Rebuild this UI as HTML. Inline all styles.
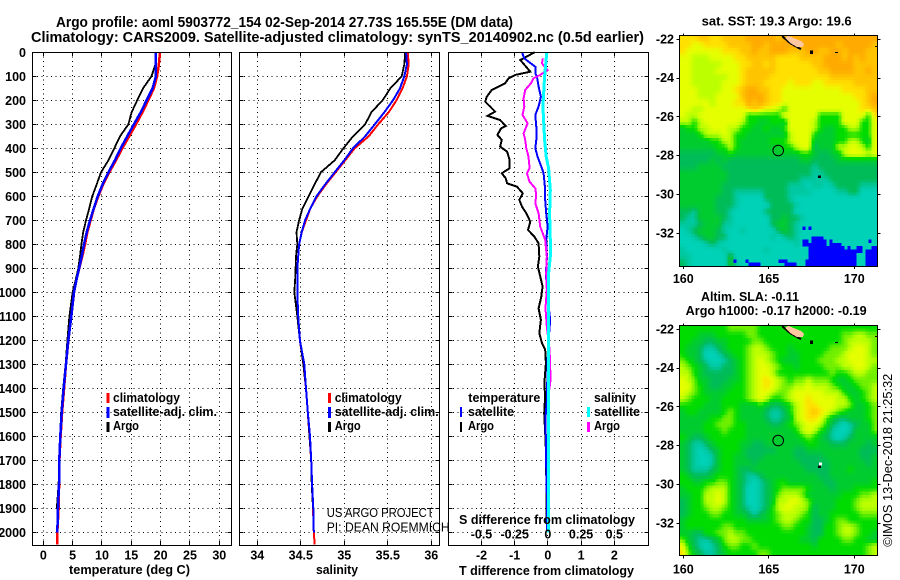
<!DOCTYPE html>
<html lang="en">
<head>
<meta charset="utf-8">
<title>Argo profile chart</title>
<style>
html,body{margin:0;padding:0;background:#fff;}
svg{display:block;}
text{font-family:"Liberation Sans",sans-serif;fill:#000;}
.t{font-size:14.5px;font-weight:bold;}
.b{font-size:12.5px;font-weight:bold;}
.r{font-size:12.5px;font-weight:normal;}
</style>
</head>
<body>
<svg id="chart" xmlns="http://www.w3.org/2000/svg" width="900" height="580" viewBox="0 0 900 580">
<rect x="0" y="0" width="900" height="580" fill="#fff"/>
<text class="t" x="56" y="27" textLength="457" lengthAdjust="spacingAndGlyphs">Argo profile: aoml 5903772_154 02-Sep-2014 27.73S 165.55E (DM data)</text>
<text class="t" x="31" y="42" textLength="613" lengthAdjust="spacingAndGlyphs">Climatology: CARS2009. Satellite-adjusted climatology: synTS_20140902.nc (0.5d earlier)</text>

<g id="p1"></g>
<g id="p2"></g>
<g id="p3"></g>
<g id="m1"></g>
<g id="m2"></g>

<text class="b" x="69" y="574" textLength="121" lengthAdjust="spacingAndGlyphs">temperature (deg C)</text>
<text class="b" x="316" y="574" textLength="42" lengthAdjust="spacingAndGlyphs">salinity</text>
<text class="b" x="459" y="575" textLength="175" lengthAdjust="spacingAndGlyphs">T difference from climatology</text>
<text class="b" x="459" y="524" textLength="176" lengthAdjust="spacingAndGlyphs">S difference from climatology</text>

<g>
<rect x="106.5" y="393" width="3" height="10" fill="#ff0000"/>
<rect x="106.5" y="407" width="3" height="11" fill="#0000ff"/>
<rect x="106.5" y="422" width="3" height="10" fill="#000"/>
<text class="b" x="113" y="402" textLength="67" lengthAdjust="spacingAndGlyphs">climatology</text>
<text class="b" x="113" y="416" textLength="104" lengthAdjust="spacingAndGlyphs">satellite-adj. clim.</text>
<text class="b" x="113" y="430" textLength="26" lengthAdjust="spacingAndGlyphs">Argo</text>
</g>
<g>
<rect x="328" y="393" width="3" height="10" fill="#ff0000"/>
<rect x="328" y="407" width="3" height="11" fill="#0000ff"/>
<rect x="328" y="422" width="3" height="10" fill="#000"/>
<text class="b" x="334.7" y="402" textLength="67" lengthAdjust="spacingAndGlyphs">climatology</text>
<text class="b" x="334.7" y="416" textLength="104" lengthAdjust="spacingAndGlyphs">satellite-adj. clim.</text>
<text class="b" x="334.7" y="430" textLength="26" lengthAdjust="spacingAndGlyphs">Argo</text>
</g>
<text class="r" x="326.7" y="517" textLength="107" lengthAdjust="spacingAndGlyphs">US ARGO PROJECT</text>
<text class="r" x="326.7" y="531.7" textLength="123" lengthAdjust="spacingAndGlyphs">PI: DEAN ROEMMICH</text>

<g>
<text class="b" x="468.3" y="402" textLength="72" lengthAdjust="spacingAndGlyphs">temperature</text>
<text class="b" x="468" y="416" textLength="46" lengthAdjust="spacingAndGlyphs">satellite</text>
<text class="b" x="468" y="430" textLength="26" lengthAdjust="spacingAndGlyphs">Argo</text>
<text class="b" x="594" y="402" textLength="42" lengthAdjust="spacingAndGlyphs">salinity</text>
<text class="b" x="594" y="416" textLength="46" lengthAdjust="spacingAndGlyphs">satellite</text>
<text class="b" x="594" y="430" textLength="26" lengthAdjust="spacingAndGlyphs">Argo</text>
<rect x="460" y="407" width="2" height="10" fill="#0000ff"/>
<rect x="460" y="422" width="2" height="10" fill="#000"/>
<rect x="587" y="407" width="3" height="10" fill="#00ffff"/>
<rect x="587" y="422" width="3" height="10" fill="#ff00ff"/>
</g>

<text class="b" x="701.7" y="25.7" textLength="150" lengthAdjust="spacingAndGlyphs">sat. SST: 19.3 Argo: 19.6</text>
<text class="b" x="701" y="301" textLength="98" lengthAdjust="spacingAndGlyphs">Altim. SLA: -0.11</text>
<text class="b" x="685.7" y="315" textLength="181" lengthAdjust="spacingAndGlyphs">Argo h1000: -0.17 h2000: -0.19</text>
<text class="r" transform="translate(892,546.7) rotate(-90)" x="0" y="0" textLength="173" lengthAdjust="spacingAndGlyphs">©IMOS 13-Dec-2018 21:25:32</text>
</svg>

<script>
/* ---------- profile data ---------- */
const depthLevels = [0,50,100,150,200,250,300,350,400,450,500,550,600,650,700,750,800,850,900,950,1000,1100,1200,1300,1400,1500,1600,1700,1800,1900,2000,2050];
const tempClim = [19.9,19.7,19.4,18.86,17.9,16.9,15.8,14.65,13.46,12.4,11.25,10.2,9.37,8.64,8.07,7.5,7.1,6.65,6.13,5.62,5.25,4.77,4.28,3.87,3.55,3.2,2.95,2.75,2.7,2.6,2.39,2.39];
const tempArgo = [19.15,19.1,18.45,17.0,16.0,15.05,14.5,13.07,12.1,11.1,9.83,9.1,8.35,7.84,7.27,6.8,6.5,6.25,5.97,5.5,5.0,4.45,4.1,3.8,3.4,3.05,2.85,2.7,2.6,2.3,null,null];
const tempSat = [19.15,19.2,19.2,18.63,17.6,16.6,15.45,14.3,13.2,12.2,11.1,10.1,9.27,8.6,7.96,7.4,6.93,6.54,6.1,5.65,5.23,4.77,4.26,3.87,3.47,3.13,2.9,2.73,2.67,2.5,2.39,null];
const salClim = [35.73,35.74,35.72,35.67,35.60,35.51,35.39,35.28,35.12,35.01,34.90,34.79,34.69,34.61,34.56,34.51,34.48,34.47,34.46,34.46,34.46,34.47,34.49,34.53,34.56,34.58,34.60,34.62,34.63,34.64,34.65,34.66];
const salArgo = [35.70,35.69,35.66,35.53,35.44,35.31,35.24,35.10,34.99,34.89,34.73,34.66,34.59,34.52,34.48,34.45,34.46,34.445,34.44,34.435,34.425,34.46,34.49,34.53,34.56,34.58,34.60,34.62,34.625,34.64,null,null];
const salSat = [35.71,35.72,35.69,35.64,35.56,35.46,35.35,35.24,35.10,35.0,34.89,34.78,34.68,34.61,34.55,34.51,34.48,34.47,34.46,34.46,34.46,34.47,34.49,34.54,34.56,34.58,34.606,34.62,34.63,34.644,34.65,null];

const tDiffArgoDepth = [0,32,81,94,108,129,157,185,206,226,247,265,282,307,317,344,365,393,414,449,483,504,525,546,560,587,615,643,671,706,740,768,796,851,893,935,976,1018,1067,1115,1170,1211,1240,1295,1365,1449,1504,1587,1657,1865,1936,1990];
const tDiffArgo = [-0.40,-0.83,-0.53,-0.98,-1.18,-1.29,-1.69,-1.84,-1.89,-1.74,-1.59,-1.82,-1.44,-1.27,-1.41,-1.52,-1.39,-1.44,-1.23,-1.15,-1.15,-1.39,-1.27,-1.23,-0.93,-0.76,-0.86,-0.78,-0.65,-0.53,-0.60,-0.41,-0.28,-0.26,-0.30,-0.23,-0.16,-0.20,-0.28,-0.21,-0.26,-0.18,-0.08,-0.06,-0.10,-0.09,-0.11,-0.08,-0.06,-0.04,-0.04,-0.03];
const tDiffSatDepth = [0,25,39,60,88,101,143,185,226,261,310,365,400,435,483,504,560,615,671,726,782,851,921,990,1115,1240,1449,1517,1657,1865,1990];
const tDiffSat = [-0.78,-0.71,-0.58,-0.38,-0.38,-0.33,-0.28,-0.21,-0.28,-0.38,-0.35,-0.35,-0.38,-0.31,-0.18,-0.13,-0.09,-0.08,-0.05,-0.01,-0.05,-0.03,-0.06,-0.03,0.07,0,-0.03,-0.07,-0.06,-0.03,-0.02];
const sDiffArgoDepth = [25,46,74,94,108,129,157,192,226,261,296,338,365,400,435,483,504,539,567,594,629,671,726,782,851,921,990,1067,1143,1240,1330,1372,1449,1936];
const sDiffArgo = [-0.038,-0.045,-0.003,-0.058,-0.108,-0.128,-0.171,-0.183,-0.178,-0.191,-0.153,-0.183,-0.171,-0.163,-0.146,-0.138,-0.158,-0.138,-0.095,-0.088,-0.095,-0.07,-0.058,-0.02,-0.008,-0.013,-0.008,-0.018,-0.008,0.013,0.018,0.018,0,0];
const sDiffSatDepth = [0,101,226,365,435,483,574,671,782,851,921,1067,1170,2000];
const sDiffSat = [-0.008,-0.025,-0.038,-0.025,-0.013,0.005,0.018,0.013,0.018,0.018,0.005,0.005,0.005,0.005];

/* ---------- tick labels ---------- */
const depthTicks = [0,100,200,300,400,500,600,700,800,900,1000,1100,1200,1300,1400,1500,1600,1700,1800,1900,2000];
const tempTicks = [0,5,10,15,20,25,30];
const salTicks = [34,34.5,35,35.5,36];
const tDiffTicks = [-2,-1,0,1,2];
const sDiffTicks = [-0.5,-0.25,0,0.25,0.5];
const lonTicks = [160,165,170];
const latTicks = [-22,-24,-26,-28,-30,-32];

/* ---------- map data: letter = colour class on the scale below ---------- */
const sstRows = [
"CCCBBCCBBBBAAAAABAAAAAAAAAAAAAAAA",
"CCDDCCCCBBBBAABAAAAAAAAAAABAAAAAB",
"CDDDDDDCCCBBABBAAABBBAABBAABAAABB",
"DDEEEDDDDCCBBBBBCCCCBBBBAAABABABB",
"DDEEEEEDDDCCBBCBCCCCCCBBAAAAABBBB",
"DDEEEEDDDDCBBBBBCCCCCCCBBAAAABBAB",
"DDEEEEEEDDCBBBBCCCCCCCCCCBBBBBBBB",
"DDEEEEEDDDCBBBCCCCDCCCDDCCCCCBBBB",
"DDDEEEEDDCBAABBCCDDDDDDDDDDCCCCBB",
"DDDEEEDDDDBAAABCCDDDDDDDDDDDDCCBA",
"DDDDDEDDDCCABABCCDDDDDDDDDDDDDCBA",
"DDEEDDDDDDDCBCDDEFDDDDDDDDDDDDCCB",
"DEEDDDDDDDDFFFFFFDDDDDDFFFFDDDDFC",
"EEFEDDDDDDEFFGGFFGDDDDEFFFFDDDFFD",
"GFFEEDDDEEFFGGFGGFDDDDEFGGFFEEFFD",
"GGGFEEEDEFFGGGGGGGEDDDFGGGFFFFFFD",
"GGGGGFFEEFGGGGGFFFEDDDGGGGFFEEFGD",
"GGGGGGFFEFGGGGGGGFFEDDHGGGEEDDEFD",
"HHHHHHGGFGGGGGGGGGGGFFGHHGGEDDDED",
"HHHHHGHGHHHHHHHHHHHHGGHHHHGGGGGGG",
"HHHGGGGHHHHHHHHHHHHHHHIHHHHHHHHHH",
"GGGGGGGGHHHHHHHHHHHHHHIIHHHHHHHHH",
"GGGGGGGGHHHHHHHHHHHHIIIIIHHHHHHHH",
"GGGGGGGHHHHHHHHHHHIIIJIIJIHHHHIII",
"GGGGGGGHHIIIIIHHHHIIIIJJJJIIHHJJJ",
"GGGGGGHHHIJJJJHHHHIJJJJJJJJJJJJJJ",
"GGGGGGHHHIJJJJJHHHHIJJJJJJJJJJJJJ",
"HHIGGGHHIJJJJJHHHHHJJJJJJJJJJJJJJ",
"HIIGGGGHIJJJJJJHHGHHIJJJJJJJJJJJJ",
"IIIHGGGIIJJJJJJHGGHIJJJJJJJJJJJJJ",
"JIHGGGHIJJIJJJJJHGHIJJJJJJJJJJJJJ",
"JJIHGGHHJJJJJJJIJIHIJJJJJJJJJJJJJ",
"JJJJIHIJJJJJJJJJJJJIJJJJJJJJJJJJJ",
"IJJJJJJIJJJJJJIJJJJJJJJJJJJJJJJJJ",
"IIJJJJJJGJJJJJJJJJJJJJJJJJJJJJJJJ",
"HIJJJJJJGIJJJJJJJJJJJJJJJJJJJJJJJ"
];
const sstColdRows = [
".........................................K.K",
"",
"",
"............................................KKKK",
".........................................KK.KKKKK.K............K",
".........................................KKKKKKKK.KKKK",
"...........................................KKKKKKKKKKKK.K..KK...KK",
"...........................................KKKKKKKKKKKKKKKKKK.KKKK",
"...........................................KKKKKKKKKKKKKKKK...KKKK",
"...........................................KKKKKKKKKKKKKKKK...KKKK",
"..................K...K..........KKK......KKKKKKKKKKKKKKKKK...KKKK",
".......................KKKK........KKKK...KKKKKKKKKKKKKKKKK...KKKK"
];
const slaRows = [
"FFFFFFFFLLLLLFFFFFFFFFFFFFFFFFFFF",
"FFFGGGFFFFFLLFFFFFFFFFFFFFFLLEELL",
"FFGGHHGGFFFFLLFFFFFFFFFFFFFLEEEEL",
"FGGHIIHGFFFLEELFFFGFFFFFFLLLEDDEL",
"FGGHJJIHGFFLEEELFFGGFFFFLLLEDDDEL",
"LFGHIJJIHGFLEDELFGGGFFFLLLEEDDDEE",
"ELFGHIIHHGFLEDDELFFGFFFFLLLEEDDEL",
"EEFGHHHHHGFLEDDEFFFFFFFFFLFFLEELL",
"DELGGHHHGGFLEDCDELFLLELLLFGGFLLLL",
"DDLFGHHGGFFLEDCDELLEEDEEELFGGFLLE",
"DELFGGGGFFFLEDDELLEDDDDDEEEFGGFLE",
"ELFFFGGFFFFLEDEFFLEDDCDDDDEEFGFLE",
"FFFFGGGFFFGGGFGHHGFEDCCDDDEELGGFL",
"GFFGGGGFLFGGGGHIIHFEDCBCDELFGGGFL",
"GGGGGFFLLFGGGGHIIHGEDCCDLGHHGGGFL",
"GGGGFFLLLFFGGGGHHGFLEDDEFHIJIHGGL",
"GGGGFFFLFFFGGGGGGGGFEDEFGIJJIGGGL",
"FGHHGFFFFFFGGGGGGGGGFLFGHIJIHGGGG",
"GHIIHGFFFFGGHHGGGGGGGFFGGHHHGGGHG",
"GHIJIHGFFFGHHHHHGGGHHGGGGGGGGGHHH",
"GHIJJIGFFGGHHHGGGGGHHHHHGGGGGGHHG",
"GHIJJIGFFGGGHGGGGGGGHHHHHGGGGGGHG",
"GHIIIHGFFGHHGGGGGGGGGHHHHGGGFGGGG",
"FGHHHGFFFGHIIHGGGGGGGGGHHGGGGGGGG",
"FFGGFFLLFGHIJIHGFFGGGGGGHHGGGGGGF",
"GFFFLEEEFGHJJIHGFLLLLFGGGHGGGFFFF",
"GGFFEEDEFGHJJIHGLEEELGGGGGGFFFLLE",
"HGFFEEDEFGHJJIHGEEDDELGGGGFFFLEEE",
"HGFFLEELFGHIJIHFEDDEELHGGGFFFLEEE",
"HGFFFLLFFGGHIHGFLEEELFHGGFFFFFLLL",
"GFFFFFFFFFFGGGGFLEELFFHHGFLLFFFFF",
"GFFFFFFLLFFFFFFFFLLFFGHHFFLEELFFF",
"GGHHFFLLELLFFFFFFFFFFGHHFFLEELFFG",
"LGHIIHGLEELLFFFFFFFFGGHFFFFLLFFGG",
"DFHIJIHFLLFFLFFFFFFFFFGFFFFFFFFLE",
"CLGHIIHGFFFFFLLFFFFFFFFFFFFFFFFLE"
];
const colourOrder = "ABCDELFGHIJ";
const colourScale = ["#ffaa00","#ffc400","#ffe000","#e6ff00","#bcff00","#70f000","#00dc00","#00cc30","#00bc58","#00c8a0","#00d2b8"];
const coldColour = "#0000ff";

/* ---------- helpers ---------- */
const SVGNS = "http://www.w3.org/2000/svg";
function scale(d0,d1,r0,r1){ return v => r0 + (v-d0)*(r1-r0)/(d1-d0); }
function snap(v){ return Math.round(v-0.5)+0.5; }
const yDepth = scale(0,2000,52.3,532.3);
const xTemp = scale(0,30,43.3,219.3);
const xSal = scale(34,36,257.3,431.3);
const xDT = scale(-2,2,481.5,614.3);
const xDS = scale(-0.5,0.5,481.5,614.3);
const xLon = scale(160,170,683.3,854.3);
const latScale1 = scale(-22,-32,39.3,233.3);
const latScale2 = scale(-22,-32,329.3,523.3);

function make(parent,tag,attrs,text){
  const n = document.createElementNS(SVGNS,tag);
  for(const k in attrs){ n.setAttribute(k,attrs[k]); }
  if(text!==undefined){ n.textContent = text; }
  parent.appendChild(n);
  return n;
}
function line(parent,x1,y1,x2,y2,extra){
  return make(parent,"line",Object.assign({x1:x1,y1:y1,x2:x2,y2:y2,stroke:"#000","stroke-width":1,"shape-rendering":"crispEdges"},extra||{}));
}
function drawSeries(parent,depths,values,xf,color,width,name){
  const pts = [];
  for(let i=0;i<depths.length;i++){
    if(values[i]===null||values[i]===undefined){ continue; }
    pts.push(xf(values[i]).toFixed(1)+","+yDepth(depths[i]).toFixed(1));
  }
  const p = make(parent,"polyline",{points:pts.join(" "),fill:"none",stroke:color,"stroke-width":width,"shape-rendering":"crispEdges"});
  
  
}

function drawProfileFrame(g,x0,x1,ticks,xf,labelFmt,showDepthLabels){
  const y0 = 52, y1 = 545;
  depthTicks.forEach(d=>{
    const y = snap(yDepth(d));
    const gl = line(g,x0,y,x1,y,{"stroke-dasharray":"1 3.6"});
    
    
    const tl = line(g,x0,y,x0+4,y);
    
    
    const tr = line(g,x1-4,y,x1,y);
    
    
    if(showDepthLabels){
      const t = make(g,"text",{class:"b",x:26,y:(yDepth(d)+4.5).toFixed(1),"text-anchor":"end"},String(d));
      
      
    }
  });
  ticks.forEach(v=>{
    const x = snap(xf(v));
    const gl = line(g,x,y0,x,y1,{"stroke-dasharray":"1 3.6"});
    
    
    const tt = line(g,x,y0,x,y0+4);
    
    
    const tb = line(g,x,y1-4,x,y1);
    
    
    const t = make(g,"text",{class:"b",x:xf(v).toFixed(1),y:559.3,"text-anchor":"middle"},labelFmt(v));
    
    
  });
}
function drawFrame(g,x0,y0,x1,y1){
  const r = make(g,"rect",{x:snap(x0),y:snap(y0),width:Math.round(x1-x0),height:Math.round(y1-y0),fill:"none",stroke:"#000","stroke-width":1,"shape-rendering":"crispEdges"});
  
  
}

/* ---------- temperature panel ---------- */
const p1 = document.getElementById("p1");
drawProfileFrame(p1,32.5,231.5,tempTicks,xTemp,String,true);
drawSeries(p1,depthLevels,tempClim,xTemp,"#ff0000",2.5,"temperature-climatology-line");
drawSeries(p1,depthLevels,tempArgo,xTemp,"#000000",1.8,"temperature-argo-line");
drawSeries(p1,depthLevels,tempSat,xTemp,"#0000ff",2.5,"temperature-satellite-line");
drawFrame(p1,32.5,52.5,231.5,545.5);

/* ---------- salinity panel ---------- */
const p2 = document.getElementById("p2");
drawProfileFrame(p2,239.5,439.5,salTicks,xSal,String,false);
drawSeries(p2,depthLevels,salClim,xSal,"#ff0000",2,"salinity-climatology-line");
drawSeries(p2,depthLevels,salArgo,xSal,"#000000",1.8,"salinity-argo-line");
drawSeries(p2,depthLevels,salSat,xSal,"#0000ff",2,"salinity-satellite-line");
drawFrame(p2,239.5,52.5,439.5,545.5);

/* ---------- difference panel ---------- */
const p3 = document.getElementById("p3");
drawProfileFrame(p3,448.5,648.5,tDiffTicks,xDT,String,false);
drawSeries(p3,tDiffArgoDepth,tDiffArgo,xDT,"#000000",2,"t-difference-argo-line");
drawSeries(p3,tDiffSatDepth,tDiffSat,xDT,"#0000ff",2,"t-difference-satellite-line");
drawSeries(p3,sDiffArgoDepth,sDiffArgo,xDS,"#ff00ff",2,"s-difference-argo-line");
drawSeries(p3,sDiffSatDepth,sDiffSat,xDS,"#00ffff",3,"s-difference-satellite-line");
sDiffTicks.forEach(v=>{
  const t = make(p3,"text",{class:"b",x:xDS(v).toFixed(1),y:538.3,"text-anchor":"middle"},String(v));
  
  
});
drawFrame(p3,448.5,52.5,648.5,545.5);

/* ---------- maps ---------- */
function levelAt(rows,r,c){
  const rr = Math.max(0,Math.min(rows.length-1,r));
  const row = rows[rr];
  const cc = Math.max(0,Math.min(32,c));
  const code = row[cc]||row[row.length-1];
  return colourOrder.indexOf(code);
}
function sampleLevel(rows,v,u){
  const r0 = Math.floor(v), c0 = Math.floor(u), fr = v-r0, fc = u-c0;
  const a = levelAt(rows,r0,c0), b = levelAt(rows,r0,c0+1);
  const c = levelAt(rows,r0+1,c0), d = levelAt(rows,r0+1,c0+1);
  return (a*(1-fc)+b*fc)*(1-fr)+(c*(1-fc)+d*fc)*fr;
}
function hexToRgb(h){ return [parseInt(h.slice(1,3),16),parseInt(h.slice(3,5),16),parseInt(h.slice(5,7),16)]; }
function levelColour(l){
  const i = Math.min(colourScale.length-2,Math.floor(l)), f = l-i;
  const p = hexToRgb(colourScale[i]), q = hexToRgb(colourScale[i+1]);
  return "rgb("+Math.round(p[0]+(q[0]-p[0])*f)+","+Math.round(p[1]+(q[1]-p[1])*f)+","+Math.round(p[2]+(q[2]-p[2])*f)+")";
}
function drawMap(g,rows,y0,y1,yLat,labelY,coldRows,coldTop,whiteSpot){
  const x0 = 679.3, x1 = 877.3;
  const fine = 2;
  const nCols = 33*fine, nRows = rows.length*fine;
  const cw = (x1-x0)/nCols, ch = (y1-y0)/nRows;
  for(let j=0;j<nRows;j++){
    for(let i=0;i<nCols;i++){
      const lvl = sampleLevel(rows,(j+0.5)/fine-0.5,(i+0.5)/fine-0.5);
      const rc = make(g,"rect",{x:(x0+i*cw).toFixed(2),y:(y0+j*ch).toFixed(2),width:(cw+0.4).toFixed(2),height:(ch+0.4).toFixed(2),fill:levelColour(lvl),"shape-rendering":"crispEdges"});
      
      
    }
  }
  if(coldRows){
    const fw = 3, fh = 3.3;
    coldRows.forEach((row,r)=>{
      for(let c=0;c<row.length&&c<66;c++){
        if(row[c]!=="K"){ continue; }
        const rc = make(g,"rect",{x:(x0+c*fw).toFixed(2),y:(coldTop+r*fh).toFixed(2),width:fw,height:fh+0.3,fill:coldColour,"shape-rendering":"crispEdges"});
        
        
      }
    });
  }
  const shore = make(g,"polyline",{points:[[782,y0+0.7],[790,y0+7.7],[797,y0+11.7],[801,y0+14]].map(p=>p.join(",")).join(" "),fill:"none",stroke:"#000","stroke-width":2,"shape-rendering":"crispEdges"});
  
  
  const land = make(g,"polygon",{points:[[788,y0+0.4],[801,y0+5.7],[804,y0+8.7],[803,y0+11.7],[797,y0+11.7],[790,y0+7.7],[785,y0+2.7]].map(p=>p.join(",")).join(" "),fill:"#ffc8a0","shape-rendering":"crispEdges"});
  
  
  const isle1 = make(g,"rect",{x:810,y:y0+15,width:3,height:3.5,fill:"#000","shape-rendering":"crispEdges"});
  
  
  const isle2 = make(g,"rect",{x:835,y:y0+16.5,width:3,height:1,fill:"#000","shape-rendering":"crispEdges"});
  
  
  const isle4 = make(g,"rect",{x:875,y:y0+10.5,width:2,height:1,fill:"#000","shape-rendering":"crispEdges"});
  
  
  if(whiteSpot){
    const w = make(g,"rect",{x:819,y:y0+137,width:3,height:3,fill:"#fff","shape-rendering":"crispEdges"});
    
    
  }
  const isle3 = make(g,"rect",{x:818,y:y0+140,width:3,height:2.5,fill:"#000","shape-rendering":"crispEdges"});
  
  
  const marker = make(g,"circle",{cx:xLon(165.55).toFixed(1),cy:yLat(-27.73).toFixed(1),r:5.3,fill:"none",stroke:"#000","stroke-width":1});
  
  
  drawFrame(g,x0,y0,x1,y1);
  lonTicks.forEach(v=>{
    const x = snap(xLon(v));
    const a = line(g,x,y0-2,x,y0);
    
    
    const b = line(g,x,y1,x,y1+3);
    
    
    const t = make(g,"text",{class:"b",x:xLon(v).toFixed(1),y:labelY,"text-anchor":"middle"},String(v));
    
    
  });
  latTicks.forEach(v=>{
    const y = snap(yLat(v));
    const a = line(g,x0-3,y,x0,y);
    
    
    const b = line(g,x1,y,x1+3,y);
    
    
    const t = make(g,"text",{class:"b",x:674,y:(yLat(v)+4).toFixed(1),"text-anchor":"end"},String(v));
    
    
  });
}
drawMap(document.getElementById("m1"),sstRows,35.3,266,latScale1,283,sstColdRows,226.4,false);
drawMap(document.getElementById("m2"),slaRows,325.3,555.7,latScale2,573.3,null,0,true);
</script>
</body>
</html>
